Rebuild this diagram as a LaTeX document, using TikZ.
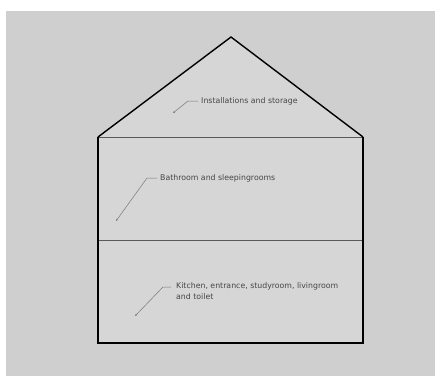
\documentclass[tikz,border=0pt]{standalone}
\usepackage{fontspec}
\setmainfont{DejaVu Sans}
\usetikzlibrary{arrows.meta}

\definecolor{bggrey}{RGB}{207,207,207}
\definecolor{housegrey}{RGB}{214,214,214}
\definecolor{labelgrey}{RGB}{70,70,70}
\definecolor{leadergrey}{RGB}{120,120,120}

\tikzset{
  wall/.style={line width=1.4pt, black, line join=miter},
  floorline/.style={line width=0.7pt, black!65},
  roomlabel/.style={font=\fontsize{7.8}{11}\selectfont, text=labelgrey, inner sep=0pt, align=left},
  leader/.style={line width=0.5pt, leadergrey, -{Stealth[length=2.4pt,width=1.8pt]}}
}

\begin{document}
\begin{tikzpicture}[x=1pt, y=-1pt]

	\useasboundingbox (0,0) rectangle (435,376);
	\fill[white] (0,0) rectangle (435,376);
	\fill[bggrey] (6,11) rectangle (435,376);

	%%% house outline
	\coordinate (bl) at (98,343);
	\coordinate (br) at (363,343);
	\coordinate (el) at (98,137);
	\coordinate (er) at (363,137);
	\coordinate (apex) at (231,37);
	\coordinate (ml) at (98,240);
	\coordinate (mr) at (363,240);

	\fill[housegrey] (bl) -- (el) -- (apex) -- (er) -- (br) -- cycle;
	\draw[floorline] (el) -- (er);
	\draw[floorline] (ml) -- (mr);
	\draw[wall] (el) -- (apex) -- (er);
	\draw[wall] (el) -- (bl) -- (br) -- (er);

	%%% attic
	\node[roomlabel, anchor=west] (attic) at (201,101) {Installations and storage};
	\coordinate (atticbend) at (188,101);
	\coordinate (attictip) at (173,113);
	\draw[leader] ([xshift=-3pt]attic.west) -- (atticbend) -- (attictip);

	%%% upper floor
	\node[roomlabel, anchor=west] (upper) at (160,178) {Bathroom and sleepingrooms};
	\coordinate (upperbend) at (147,178);
	\coordinate (uppertip) at (116,221);
	\draw[leader] ([xshift=-3pt]upper.west) -- (upperbend) -- (uppertip);

	%%% ground floor
	\node[roomlabel, anchor=north west] (ground) at (176,282) {Kitchen, entrance, studyroom, livingroom\\and toilet};
	\coordinate (groundbend) at (163,287);
	\coordinate (groundtip) at (135,316);
	\draw[leader] ([xshift=-5pt]ground.north west |- groundbend) -- (groundbend) -- (groundtip);

\end{tikzpicture}
\end{document}
